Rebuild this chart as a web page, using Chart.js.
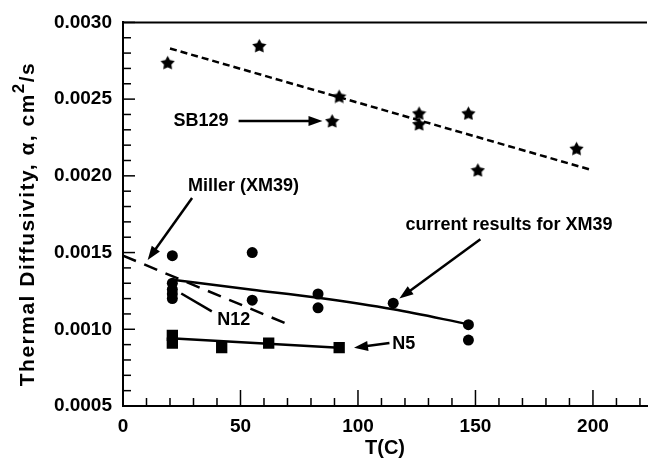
<!DOCTYPE html>
<html>
<head>
<meta charset="utf-8">
<script src="https://cdn.jsdelivr.net/npm/chart.js@4/dist/chart.umd.min.js"></script>
<style>
  html, body { margin: 0; padding: 0; background: #fff; }
</style>
</head>
<body>
<canvas id="diffusivityChart" width="655" height="472"></canvas>
<script>
// readings, T in C, alpha in cm2/s
const sb129T = [19, 58, 89, 92, 126, 126, 147, 151, 193];
const sb129Alpha = [0.00274, 0.00285, 0.00236, 0.00252, 0.00241, 0.00234, 0.00241, 0.00204, 0.00218];
const sb129FitT = [20, 199];
const sb129FitAlpha = [0.00283, 0.00204];

const xm39T = [21, 21, 21, 21, 21, 55, 55, 83, 83, 115, 147, 147];
const xm39Alpha = [0.00148, 0.00130, 0.00126, 0.00123, 0.00120, 0.00150, 0.00119, 0.00123, 0.00114, 0.00117, 0.00103, 0.00093];
const xm39FitT = [21, 55, 83, 115, 147];
const xm39FitAlpha = [0.001323, 0.001258, 0.001205, 0.00113, 0.001033];

const millerT = [0, 69];
const millerAlpha = [0.00148, 0.00104];

const n5T = [21, 21, 42, 62, 92];
const n5Alpha = [0.00096, 0.00091, 0.00088, 0.00091, 0.00088];
const n5FitT = [22, 92];
const n5FitAlpha = [0.00094, 0.00088];

const xTicks = [0, 50, 100, 150, 200];
const yTicks = [0.0005, 0.0010, 0.0015, 0.0020, 0.0025, 0.0030];
const xMinorTicks = [0, 10, 20, 30, 40, 50, 60, 70, 80, 90, 100, 110, 120, 130, 140, 150, 160, 170, 180, 190, 200, 210, 220];
const yMinorTicks = [0.0005, 0.0006, 0.0007, 0.0008, 0.0009, 0.0010, 0.0011, 0.0012, 0.0013, 0.0014, 0.0015, 0.0016, 0.0017,
  0.0018, 0.0019, 0.0020, 0.0021, 0.0022, 0.0023, 0.0024, 0.0025, 0.0026, 0.0027, 0.0028, 0.0029, 0.0030];

const FONT = '"Liberation Sans", Arial, Helvetica, sans-serif';

const toPts = (xs, ys) => xs.map((v, i) => ({ x: v, y: ys[i] }));

// filled five point star for the SB129 marks
function makeStar(size) {
  const c = document.createElement('canvas');
  c.width = size;
  c.height = size;
  const g = c.getContext('2d');
  const R = size / 2, r = R * 0.52;
  g.beginPath();
  for (let i = 0; i < 10; i++) {
    const ang = -Math.PI / 2 + i * Math.PI / 5;
    const rad = i % 2 ? r : R;
    g.lineTo(R + rad * Math.cos(ang), R + 1 + rad * Math.sin(ang));
  }
  g.closePath();
  g.fillStyle = '#000';
  g.fill();
  return c;
}

// text labels and arrows, anchored in data units
const notes = [
  { text: 'SB129', at: [33.2, 0.002357], from: [49.2, 0.002357], to: [84.9, 0.002357], head: true },
  { text: 'Miller (XM39)', at: [51.3, 0.001933], from: [29.4, 0.001856], to: [10.5, 0.001451], head: true },
  { text: 'current results for XM39', at: [164.3, 0.001682], from: [152.1, 0.001586], to: [117.6, 0.00120], head: true },
  { text: 'N12', at: [47.1, 0.001059], from: [24.8, 0.001233], to: [37.8, 0.001117], head: false },
  { text: 'N5', at: [119.5, 0.000905], from: [113.4, 0.000911], to: [98.3, 0.000879], head: true },
];

// inward tick marks plus the top frame line
const frameTicks = {
  id: 'frameTicks',
  afterDraw(chart) {
    const { ctx, chartArea: a } = chart;
    const xs = chart.scales.x, ys = chart.scales.y;
    ctx.save();
    ctx.strokeStyle = '#000';
    ctx.lineWidth = 1.5;
    xMinorTicks.forEach(t => {
      const px = xs.getPixelForValue(t);
      const len = t % 50 === 0 ? 16 : 8;
      ctx.beginPath();
      ctx.moveTo(px, a.bottom);
      ctx.lineTo(px, a.bottom - len);
      ctx.stroke();
    });
    yMinorTicks.forEach((v, k) => {
      const py = ys.getPixelForValue(v);
      const len = k % 5 === 0 ? 12 : 8;
      ctx.beginPath();
      ctx.moveTo(a.left, py);
      ctx.lineTo(a.left + len, py);
      ctx.stroke();
    });
    ctx.lineWidth = 2;
    ctx.beginPath();
    ctx.moveTo(a.left, a.top);
    ctx.lineTo(a.right, a.top);
    ctx.stroke();
    ctx.restore();
  }
};

const notesAndTitle = {
  id: 'notesAndTitle',
  afterDraw(chart) {
    const { ctx } = chart;
    const xs = chart.scales.x, ys = chart.scales.y;
    ctx.save();
    ctx.fillStyle = '#000';
    ctx.strokeStyle = '#000';
    ctx.font = 'bold 18px ' + FONT;
    ctx.textAlign = 'center';
    ctx.textBaseline = 'middle';
    ctx.lineWidth = 2.5;
    notes.forEach(n => {
      ctx.fillText(n.text, xs.getPixelForValue(n.at[0]), ys.getPixelForValue(n.at[1]));
      const x0 = xs.getPixelForValue(n.from[0]), y0 = ys.getPixelForValue(n.from[1]);
      const x1 = xs.getPixelForValue(n.to[0]), y1 = ys.getPixelForValue(n.to[1]);
      const ang = Math.atan2(y1 - y0, x1 - x0);
      const hl = n.head ? 14 : 0;
      ctx.beginPath();
      ctx.moveTo(x0, y0);
      ctx.lineTo(x1 - hl * 0.8 * Math.cos(ang), y1 - hl * 0.8 * Math.sin(ang));
      ctx.stroke();
      if (n.head) {
        ctx.beginPath();
        ctx.moveTo(x1, y1);
        ctx.lineTo(x1 - hl * Math.cos(ang) + 5 * Math.sin(ang), y1 - hl * Math.sin(ang) - 5 * Math.cos(ang));
        ctx.lineTo(x1 - hl * Math.cos(ang) - 5 * Math.sin(ang), y1 - hl * Math.sin(ang) + 5 * Math.cos(ang));
        ctx.closePath();
        ctx.fill();
      }
    });

    // y title with a full size raised 2, like the original
    const parts = ['Thermal Diffusivity, \u03b1, cm', '2', '/s'];
    const big = 'bold 21px ' + FONT, small = 'bold 17px ' + FONT;
    ctx.letterSpacing = '1.5px';
    ctx.font = big;
    const w0 = ctx.measureText(parts[0]).width;
    const w2 = ctx.measureText(parts[2]).width;
    ctx.font = small;
    const w1 = ctx.measureText(parts[1]).width;
    const total = w0 + w1 + w2;
    ctx.translate(28, 224);
    ctx.rotate(-Math.PI / 2);
    ctx.textAlign = 'left';
    ctx.textBaseline = 'middle';
    let cx = -total / 2;
    ctx.font = big;
    ctx.fillText(parts[0], cx, 0);
    cx += w0;
    ctx.font = small;
    ctx.fillText(parts[1], cx, -9);
    cx += w1;
    ctx.font = big;
    ctx.fillText(parts[2], cx, 0);
    ctx.restore();
  }
};

const ctx = document.getElementById('diffusivityChart').getContext('2d');
new Chart(ctx, {
  type: 'scatter',
  data: {
    datasets: [
      {
        label: 'SB129 fit',
        data: toPts(sb129FitT, sb129FitAlpha),
        showLine: true,
        borderColor: '#000',
        borderWidth: 2.5,
        borderDash: [7, 4],
        pointRadius: 0,
      },
      {
        label: 'Miller (XM39)',
        data: toPts(millerT, millerAlpha),
        showLine: true,
        borderColor: '#000',
        borderWidth: 2.5,
        borderDash: [14, 9],
        pointRadius: 0,
      },
      {
        label: 'XM39 fit',
        data: toPts(xm39FitT, xm39FitAlpha),
        showLine: true,
        borderColor: '#000',
        borderWidth: 2.5,
        cubicInterpolationMode: 'monotone',
        pointRadius: 0,
      },
      {
        label: 'N5 fit',
        data: toPts(n5FitT, n5FitAlpha),
        showLine: true,
        borderColor: '#000',
        borderWidth: 2.5,
        pointRadius: 0,
      },
      {
        label: 'SB129',
        data: toPts(sb129T, sb129Alpha),
        pointStyle: makeStar(15),
        pointRadius: 7,
      },
      {
        label: 'XM39',
        data: toPts(xm39T, xm39Alpha),
        pointStyle: 'circle',
        pointRadius: 5.5,
        backgroundColor: '#000',
        borderColor: '#000',
        borderWidth: 0,
      },
      {
        label: 'N5',
        data: toPts(n5T, n5Alpha),
        pointStyle: 'rect',
        pointRadius: 8,
        backgroundColor: '#000',
        borderColor: '#000',
        borderWidth: 0,
      },
    ],
  },
  options: {
    responsive: false,
    animation: false,
    layout: { padding: { top: 17, right: 1, left: 0, bottom: 0 } },
    scales: {
      x: {
        type: 'linear',
        min: 0,
        max: 223,
        afterFit: s => { s.height = 66; },
        afterBuildTicks: s => { s.ticks = xTicks.map(v => ({ value: v })); },
        border: { display: true, color: '#000', width: 2 },
        grid: { display: false, drawTicks: false },
        ticks: {
          padding: 9,
          color: '#000',
          font: { family: FONT, size: 19, weight: 'bold' },
          callback: v => String(v),
        },
        title: {
          display: true,
          text: 'T(C)',
          color: '#000',
          font: { family: FONT, size: 20, weight: 'bold' },
          padding: { top: 0, bottom: 12 },
        },
      },
      y: {
        min: 0.0005,
        max: 0.0030,
        afterFit: s => { s.width = 123; },
        afterBuildTicks: s => { s.ticks = yTicks.map(v => ({ value: v })); },
        border: { display: true, color: '#000', width: 2 },
        grid: { display: false, drawTicks: false },
        ticks: {
          padding: 11,
          color: '#000',
          font: { family: FONT, size: 19, weight: 'bold' },
          callback: v => Number(v).toFixed(4),
        },
      },
    },
    plugins: {
      legend: { display: false },
      tooltip: { enabled: false },
    },
  },
  plugins: [frameTicks, notesAndTitle],
});
</script>
</body>
</html>
